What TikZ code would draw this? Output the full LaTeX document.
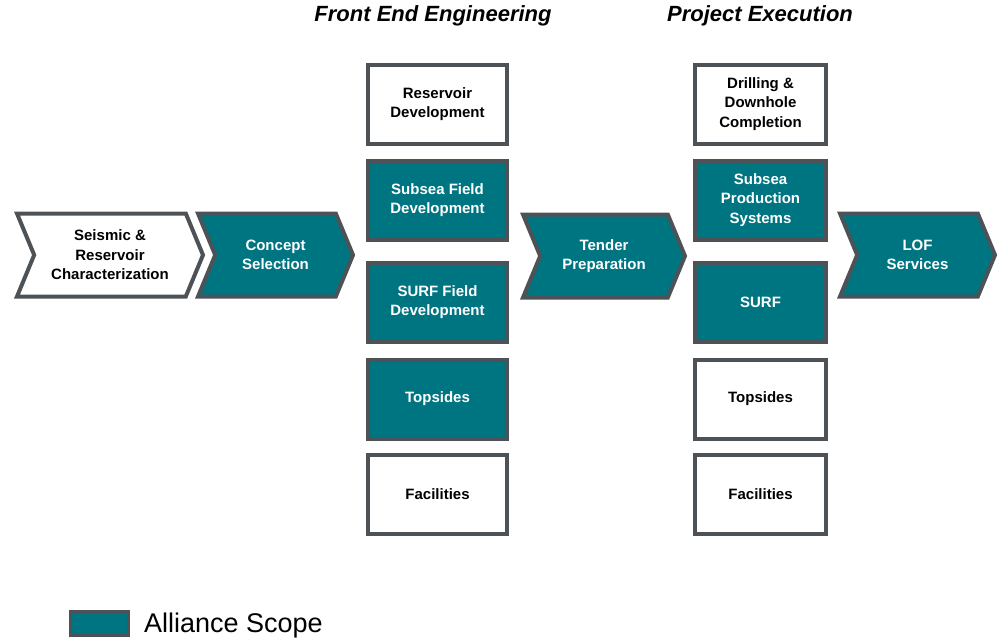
\documentclass[tikz,border=0pt]{standalone}
\usepackage{fontspec}
\setmainfont{Liberation Sans}
\usetikzlibrary{shapes.symbols}
\definecolor{scopeteal}{HTML}{007582}
\definecolor{edgegray}{HTML}{4D5257}

\begin{document}
\begin{tikzpicture}[x=1pt,y=-1pt,
	stage/.style={draw=edgegray,line width=4pt,align=center,inner sep=0pt,
		font=\fontsize{15}{19.5}\selectfont\bfseries},
	box/.style={stage,minimum width=139pt,minimum height=79pt},
	chev/.style={stage,shape=signal,signal from=west,signal to=east,
		signal pointer angle=135,minimum height=83pt},
	alliance/.style={fill=scopeteal,text=white},
	other/.style={fill=white,text=black},
	phase/.style={font=\fontsize{22}{26}\selectfont\bfseries\itshape}]
		\useasboundingbox (0,0) rectangle (998,640);
		
		% Headers
		\node[phase] (fee) at (433,16) {Front End Engineering};
		\node[phase] (pe) at (760,16) {Project Execution};
		
		% Chevrons
		\node[chev,other,minimum width=186pt] (seis) at (110,255) {Seismic \&\\Reservoir\\Characterization};
		\node[chev,alliance,minimum width=155pt] (conc) at (275.5,255) {Concept\\Selection};
		\node[chev,alliance,minimum width=162pt] (tend) at (604,256) {Tender\\Preparation};
		\node[chev,alliance,minimum width=155pt] (lof) at (917.5,255) {LOF\\Services};
		
		% Front end boxes
		\node[box,other] (resdev) at (437.5,104) {Reservoir\\Development};
		\node[box,alliance] (subdev) at (437.5,200) {Subsea Field\\Development};
		\node[box,alliance] (surfdev) at (437.5,302) {SURF Field\\Development};
		\node[box,alliance] (topfe) at (437.5,399) {Topsides};
		\node[box,other] (facfe) at (437.5,494) {Facilities};
		
		% Execution boxes
		\node[box,other,minimum width=131pt] (drill) at (760.5,104) {Drilling \&\\Downhole\\Completion};
		\node[box,alliance,minimum width=131pt] (sps) at (760.5,200) {Subsea\\Production\\Systems};
		\node[box,alliance,minimum width=131pt] (surf) at (760.5,302) {SURF};
		\node[box,other,minimum width=131pt] (toppe) at (760.5,399) {Topsides};
		\node[box,other,minimum width=131pt] (facpe) at (760.5,494) {Facilities};
		
		% Legend
		\node[draw=edgegray,line width=3pt,fill=scopeteal,minimum width=58pt,minimum height=24pt,inner sep=0pt] (key) at (99.5,623.5) {};
		\node[anchor=west,font=\fontsize{27}{31}\selectfont,inner sep=0pt] (keytext) at (144,626) {Alliance Scope};
		
	\end{tikzpicture}
\end{document}
